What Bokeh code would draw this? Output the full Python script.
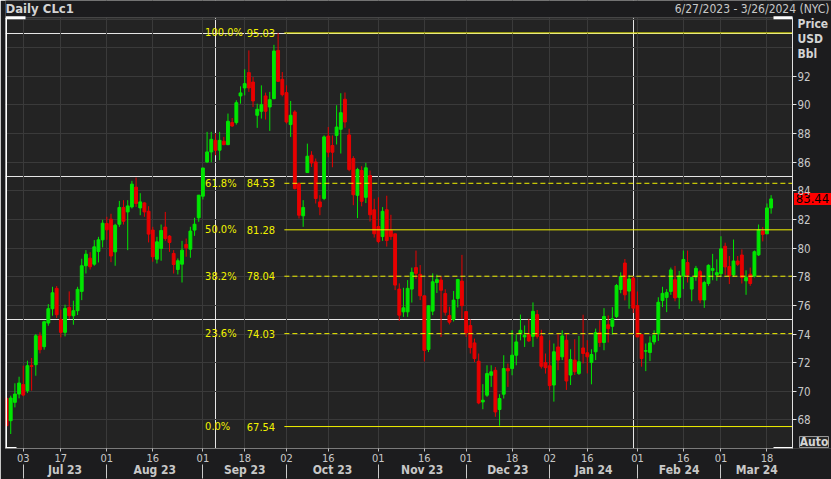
import pandas as pd
from bokeh.plotting import figure
from bokeh.models import (LinearAxis, FixedTicker, Grid, Range1d, ColumnDataSource)
from bokeh.core.properties import value
from bokeh.embed import file_html
from bokeh.resources import INLINE

# ---------------- data ----------------
start_date = "2023-06-27"
end_date = "2024-03-26"
holidays = ["2023-07-04", "2023-09-04", "2023-11-23", "2023-12-25",
            "2024-01-01", "2024-01-15", "2024-02-19"]

opens = [
    69.51, 67.95, 69.23, 69.81,
    70.47, 70.05, 71.79, 71.86, 73.88, 73.12, 74.77, 75.77, 77.19, 75.02, 74.12, 75.86, 75.28, 75.63, 76.98, 78.77, 79.30, 78.88, 79.77, 80.58,
    81.72, 82.02, 79.74, 81.67, 82.84, 82.53, 82.88, 84.26, 82.81, 83.16, 82.58, 81.26, 79.23, 79.98, 81.47, 80.84, 79.63, 78.51, 78.88, 80.26, 79.93, 81.26, 82.12,
    83.63, 86.02, 86.72, 87.53, 86.84, 87.47, 87.23, 88.77, 88.77, 90.63, 91.19, 92.26, 91.60, 89.28, 89.56, 90.63, 89.86, 90.44, 93.81, 91.79,
    90.86, 88.63, 89.51, 84.50, 82.26, 85.28, 86.49, 86.02, 83.23, 83.47, 87.83, 87.17, 87.87, 88.30, 90.40, 87.91, 86.26, 83.69, 85.42, 83.55, 85.07, 82.68,
    81.51, 80.81, 82.68, 81.23, 81.00, 77.14, 75.55, 75.55, 77.14, 78.64, 78.17, 76.67, 72.93, 75.60, 77.60, 77.77, 76.83, 75.29, 75.02, 76.48, 77.70,
    75.57, 74.60, 73.38, 72.10, 69.26, 69.73, 71.12, 71.47, 68.73, 69.80, 71.59, 71.59, 72.52, 74.03, 73.80, 73.96, 73.84, 75.36, 73.84, 72.00,
    71.78, 70.44, 73.10, 72.41, 73.57, 71.14, 72.18, 71.25, 73.03, 72.69, 72.02, 72.76, 74.10, 73.41, 74.65, 74.54, 75.23, 77.11, 78.96, 77.00, 77.90,
    75.99, 73.96, 72.80, 72.71, 73.45, 74.03, 76.34, 76.56, 76.98, 77.79, 76.56, 78.06, 78.99, 77.14, 77.99, 78.36, 76.38, 77.53, 78.45, 78.13,
    78.22, 80.13, 78.71, 78.13, 79.10, 79.52, 77.72, 78.18, 78.06, 79.53, 81.19, 81.00, 82.81,
]
highs = [
    70.09, 69.70, 70.56, 71.02,
    71.79, 72.14, 72.33, 74.00, 74.12, 74.93, 76.09, 77.30, 77.35, 75.70, 76.05, 76.98, 76.33, 77.30, 79.26, 79.86, 79.72, 80.56, 80.79, 81.98,
    82.19, 82.40, 81.70, 83.30, 83.35, 83.35, 84.70, 84.93, 83.84, 83.20, 82.93, 81.49, 80.79, 81.65, 82.53, 80.91, 79.86, 79.28, 80.51, 80.67, 81.49, 82.12, 83.70,
    85.60, 88.12, 88.12, 88.00, 88.12, 87.77, 89.40, 89.09, 90.33, 91.30, 92.49, 93.81, 91.95, 90.09, 91.37, 90.86, 90.91, 94.20, 95.03, 92.30,
    91.37, 90.28, 89.63, 84.60, 83.35, 87.30, 86.77, 86.26, 83.70, 87.88, 88.46, 87.87, 89.98, 90.82, 90.87, 88.34, 86.42, 85.61, 85.72, 85.96, 85.42, 83.45,
    83.55, 82.87, 83.66, 82.33, 81.00, 77.54, 77.23, 77.77, 78.64, 79.83, 78.82, 76.67, 76.02, 78.24, 78.15, 78.04, 77.13, 75.91, 77.01, 77.86, 79.53,
    75.57, 75.02, 73.68, 72.64, 70.50, 71.82, 71.82, 71.70, 69.80, 72.52, 71.94, 74.26, 73.98, 75.36, 74.60, 75.06, 76.21, 75.68, 74.30, 72.64,
    73.57, 73.34, 74.03, 74.26, 74.03, 72.94, 73.64, 73.87, 75.35, 73.57, 72.94, 74.38, 74.96, 75.81, 75.30, 75.88, 77.50, 78.31, 79.24, 78.13, 78.01,
    76.97, 73.96, 73.34, 73.84, 74.26, 76.57, 77.30, 77.14, 78.64, 78.76, 78.41, 79.83, 79.83, 77.95, 78.76, 78.48, 77.72, 78.87, 79.60, 79.22,
    80.83, 80.38, 79.45, 80.60, 79.45, 79.91, 78.45, 78.64, 79.84, 81.65, 81.47, 83.12, 83.70,
]
lows = [
    67.42, 67.02, 68.88, 69.51,
    69.65, 69.88, 70.05, 71.09, 72.65, 72.91, 74.58, 75.28, 75.12, 73.77, 73.84, 75.05, 74.65, 75.33, 76.37, 78.23, 78.51, 78.77, 79.00, 80.05,
    80.58, 79.02, 78.77, 81.49, 81.65, 79.86, 82.77, 82.88, 82.30, 82.19, 80.40, 79.05, 78.93, 79.12, 80.51, 79.74, 78.23, 78.16, 77.60, 79.40, 79.33, 80.86, 81.84,
    83.40, 85.95, 86.00, 86.49, 86.14, 87.19, 87.19, 88.47, 88.63, 90.09, 90.67, 90.91, 89.86, 88.40, 89.05, 88.98, 88.19, 90.40, 91.60, 90.60,
    88.70, 87.77, 84.10, 82.07, 81.49, 85.28, 85.67, 83.12, 82.30, 83.35, 86.35, 85.65, 87.24, 86.61, 88.41, 85.37, 83.00, 82.10, 82.92, 83.15, 81.86, 80.74,
    80.34, 80.51, 80.11, 80.58, 77.07, 74.92, 75.20, 75.20, 76.20, 77.84, 76.37, 72.09, 72.74, 75.32, 76.87, 73.80, 75.29, 74.67, 74.88, 75.86, 75.06,
    73.80, 72.64, 72.05, 69.10, 68.75, 69.61, 70.31, 68.22, 67.60, 69.50, 70.31, 71.12, 71.82, 73.56, 73.10, 73.45, 73.10, 73.68, 71.59, 71.24,
    70.10, 69.28, 71.48, 72.18, 70.10, 70.44, 71.14, 71.14, 71.95, 71.25, 70.49, 72.18, 73.10, 72.87, 73.41, 73.96, 75.12, 76.85, 76.35, 75.77, 75.47,
    73.80, 71.72, 71.41, 72.11, 73.27, 73.52, 75.88, 75.53, 76.74, 76.29, 75.76, 77.14, 77.60, 76.29, 77.72, 76.15, 75.83, 77.37, 77.76, 77.72,
    77.99, 78.13, 77.49, 77.99, 78.76, 77.53, 76.74, 77.37, 77.95, 79.45, 80.47, 81.00, 82.41,
]
closes = [
    67.60, 69.53, 69.81, 70.58,
    69.74, 71.79, 71.74, 73.88, 72.91, 74.86, 75.77, 76.88, 75.35, 74.12, 75.79, 75.28, 75.63, 77.12, 78.77, 79.58, 78.70, 80.09, 80.58, 81.74,
    81.28, 79.45, 81.60, 82.84, 81.88, 82.95, 84.47, 83.12, 83.23, 82.53, 80.98, 79.40, 80.44, 81.23, 80.67, 80.40, 78.86, 79.12, 79.86, 80.02, 81.19, 81.67, 83.70,
    85.60, 86.72, 87.60, 86.84, 87.53, 87.23, 88.86, 88.53, 90.16, 90.84, 91.49, 91.19, 90.28, 89.70, 90.02, 89.56, 90.37, 93.77, 91.65, 90.72,
    88.81, 89.28, 84.16, 82.30, 82.84, 86.42, 85.95, 83.47, 82.88, 87.77, 86.70, 86.70, 88.46, 89.46, 88.81, 85.49, 83.73, 85.49, 83.27, 85.61, 82.33, 81.00,
    80.46, 82.57, 80.53, 80.81, 77.42, 75.32, 75.83, 77.19, 78.31, 78.24, 76.67, 72.86, 75.97, 77.65, 77.80, 77.06, 75.52, 74.83, 76.37, 77.81, 75.98,
    74.08, 73.05, 72.29, 69.19, 69.38, 71.24, 71.36, 68.56, 69.50, 71.59, 71.43, 72.52, 73.45, 74.26, 73.91, 73.52, 75.59, 73.84, 71.75, 71.65,
    70.40, 72.76, 72.18, 73.87, 70.72, 72.22, 71.37, 72.06, 72.64, 72.41, 72.57, 74.10, 73.41, 75.23, 74.38, 75.07, 77.39, 78.01, 76.74, 77.85, 75.81,
    73.80, 72.29, 72.84, 73.38, 73.91, 76.22, 76.84, 76.91, 78.48, 76.52, 78.06, 79.21, 78.13, 77.95, 78.59, 76.38, 77.60, 78.80, 78.57, 78.29,
    79.95, 78.69, 78.06, 79.10, 78.87, 77.95, 77.95, 77.53, 79.75, 81.28, 80.96, 82.81, 83.44,
]

fib_pcts = [100.0, 61.8, 50.0, 38.2, 23.6, 0.0]
fib_values = [95.03, 84.53, 81.28, 78.04, 74.03, 67.54]

price_ticks = [68, 70, 72, 74, 76, 78, 80, 82, 84, 86, 88, 90, 92]
grid_levels = [66, 68, 70, 72, 74, 76, 78, 80, 82, 84, 86, 88, 90, 92, 94, 96]
day_tick_dates = ["2023-07-03", "2023-07-17", "2023-08-01", "2023-08-16", "2023-09-01",
                  "2023-09-18", "2023-10-02", "2023-10-16", "2023-11-01", "2023-11-16",
                  "2023-12-01", "2023-12-18", "2024-01-02", "2024-01-16", "2024-02-01",
                  "2024-02-16", "2024-03-01", "2024-03-18"]

title_text = "Daily CLc1"
range_text = "6/27/2023 - 3/26/2024 (NYC)"
unit_texts = ["Price", "USD", "Bbl"]
auto_text = "Auto"

# ---------------- calendar ----------------
cal = [d for d in pd.bdate_range(start_date, end_date) if d.strftime("%Y-%m-%d") not in holidays]
cal_str = [d.strftime("%Y-%m-%d") for d in cal]
n = len(closes)
xs = list(range(n))

# ---------------- layout ----------------
W, H = 831, 479
LEFT, BOTTOM = 5, 30
CHART_TOP = 17.3            # page y of the chart area's top edge
PLOT_RIGHT = 792            # page x where the price panel begins
PX_PER_UNIT = 14.35
PX_PER_DAY = 4.178
frame_w = W - LEFT
frame_h = H - BOTTOM
x0 = -0.25
x1 = x0 + frame_w / PX_PER_DAY
y1 = 92 + 76 / PX_PER_UNIT
y0 = y1 - frame_h / PX_PER_UNIT


def py(page_y):
    return round(y1 - page_y / PX_PER_UNIT, 3)


def px(page_x):
    return round(x0 + (page_x - LEFT) / PX_PER_DAY, 3)


xr = px(PLOT_RIGHT)
yt = py(CHART_TOP)

FONT = "DejaVu Sans Condensed"
TXT = "#c8c8c8"
BORDER = "#1c1c1e"
GREEN = "#00e600"
RED = "#e80000"
YELLOW = "#f2f200"

p = figure(width=W, height=H, x_range=Range1d(x0, x1), y_range=Range1d(y0, y1),
           output_backend="svg", toolbar_location=None, tools="",
           x_axis_location=None, y_axis_location=None,
           min_border_left=LEFT, min_border_right=0, min_border_top=0,
           min_border_bottom=BOTTOM,
           background_fill_color="#232323", border_fill_color=BORDER,
           outline_line_color=None)

# grids
day_idx = [cal_str.index(d) for d in day_tick_dates]
p.add_layout(Grid(dimension=0, ticker=FixedTicker(ticks=day_idx),
                  grid_line_color="#3a3a3a", grid_line_width=1))
p.add_layout(Grid(dimension=1, ticker=FixedTicker(ticks=grid_levels),
                  grid_line_color="#3a3a3a", grid_line_width=1))

# surrounding strips (title bar and price panel) in the border colour
p.quad(left=[xr, x0], right=[x1, x1], bottom=[y0, yt], top=[y1, y1],
       fill_color=BORDER, line_color=None)
# top edge of the chart area
p.segment(x0=[x0], y0=[yt], x1=[xr], y1=[yt], line_color="#555555", line_width=1)

# candles
colors = [GREEN if c >= o else RED for o, c in zip(opens, closes)]
src = ColumnDataSource(dict(
    x=xs, high=highs, low=lows,
    top=[max(o, c) for o, c in zip(opens, closes)],
    bottom=[min(o, c) for o, c in zip(opens, closes)],
    color=colors))
p.segment(x0="x", y0="low", x1="x", y1="high", line_color="color", line_width=1, source=src)
p.vbar(x="x", width=0.68, top="top", bottom="bottom", fill_color="color",
       line_color="color", line_width=1, source=src)

# fibonacci retracement
hi_idx = highs.index(max(highs))
solid = [v for pc, v in zip(fib_pcts, fib_values) if pc in (0.0, 50.0, 100.0)]
dashed = [v for pc, v in zip(fib_pcts, fib_values) if pc not in (0.0, 50.0, 100.0)]
p.segment(x0=[hi_idx + 1.5] * len(solid), y0=solid, x1=[xr] * len(solid), y1=solid,
          line_color=YELLOW, line_width=1)
p.segment(x0=[hi_idx + 1.5] * len(dashed), y0=dashed, x1=[xr] * len(dashed), y1=dashed,
          line_color=YELLOW, line_width=1, line_dash="5 3")
p.text(x=[hi_idx] * len(fib_pcts), y=fib_values, text=[f"{v:.1f}%" for v in fib_pcts],
       x_offset=-73, text_align="left", text_baseline="middle",
       text_font=value(FONT), text_font_size="11px", text_color=YELLOW)
p.text(x=[hi_idx] * len(fib_values), y=fib_values, text=[f"{v:.2f}" for v in fib_values],
       x_offset=-3, text_align="right", text_baseline="middle",
       text_font=value(FONT), text_font_size="11px", text_color=YELLOW)

# white frame brackets
p.segment(x0=[x0, x0, px(773), x0, px(773)], y0=[y0, yt, yt, y0, y0],
          x1=[x0, px(25), xr, px(16), xr], y1=[yt, yt, yt, y0, y0],
          line_color="#ffffff", line_width=3)

# title bar texts
p.text(x=[px(5)], y=[py(8.5)], text=[title_text], text_align="left",
       text_baseline="middle", text_font=value(FONT), text_font_size="13px",
       text_font_style="bold", text_color="#d4d4d4")
p.text(x=[px(829)], y=[py(8.5)], text=[range_text], text_align="right",
       text_baseline="middle", text_font=value(FONT), text_font_size="12px",
       text_color=TXT)

# last-price tag
last = closes[-1]
half = 6 / PX_PER_UNIT
p.quad(left=[px(793.5)], right=[x1], bottom=[last - half], top=[last + half],
       fill_color="#ff0000", line_color=None)
p.text(x=[px(812)], y=[last], text=[f"{last:.2f}"], text_align="center",
       text_baseline="middle", text_font=value(FONT), text_font_size="13px",
       text_color="#000000")

# unit captions and Auto button
p.text(x=[px(797)] * 3, y=[py(24), py(39), py(54)], text=unit_texts, text_align="left",
       text_baseline="middle", text_font=value(FONT), text_font_size="12px",
       text_font_style="bold", text_color="#d4d4d4")
p.quad(left=[px(799)], right=[px(828)], bottom=[py(448)], top=[py(437)],
       fill_color="#262626", line_color="#9a9a9a", line_width=1)
p.text(x=[px(813.5)], y=[py(442.5)], text=[auto_text], text_align="center",
       text_baseline="middle", text_font=value(FONT), text_font_size="12px",
       text_font_style="bold", text_color="#d4d4d4")

# right price axis drawn at the panel boundary
ax_r = LinearAxis(ticker=FixedTicker(ticks=price_ticks), fixed_location=xr,
                  bounds=(y0, yt),
                  axis_line_color="#e0e0e0", axis_line_width=1,
                  major_tick_line_color="#e0e0e0", major_tick_out=4, major_tick_in=0,
                  minor_tick_line_color=None,
                  major_label_text_color=TXT, major_label_text_font=FONT,
                  major_label_text_font_size="11.5px", major_label_standoff=1)
p.add_layout(ax_r, "right")

# bottom axes: day numbers, then month names with separators
ax_d = LinearAxis(ticker=FixedTicker(ticks=day_idx), bounds=(x0, xr),
                  major_label_overrides={i: cal[i].strftime("%d") for i in day_idx},
                  axis_line_color="#7a7a7a", major_tick_line_color="#c0c0c0",
                  major_tick_out=3, major_tick_in=0, minor_tick_line_color=None,
                  major_label_text_color=TXT, major_label_text_font=FONT,
                  major_label_text_font_size="11px", major_label_standoff=2)
p.add_layout(ax_d, "below")

month_starts = [i for i in range(1, len(cal)) if cal[i].month != cal[i - 1].month]
bounds = month_starts + [xr]
month_mids = [(bounds[k] + bounds[k + 1]) / 2 for k in range(len(month_starts))]
month_labels = {m: cal[s].strftime("%b %y") for m, s in zip(month_mids, month_starts)}
ax_m = LinearAxis(ticker=FixedTicker(ticks=month_mids, minor_ticks=month_starts),
                  major_label_overrides=month_labels,
                  axis_line_color=None, major_tick_line_color=None,
                  major_tick_out=0, major_tick_in=0,
                  minor_tick_line_color="#c8c8c8", minor_tick_out=14, minor_tick_in=0,
                  major_label_text_color=TXT, major_label_text_font=FONT,
                  major_label_text_font_style="bold",
                  major_label_text_font_size="12px", major_label_standoff=-16)
p.add_layout(ax_m, "below")

open("out.html", "w").write(file_html(p, INLINE))
